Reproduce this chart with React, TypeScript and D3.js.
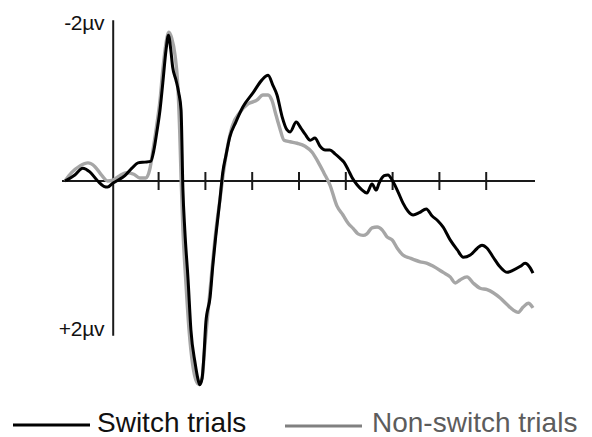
import React from 'react'
import * as d3 from 'd3'

// ERP waveforms: [time in ms, amplitude in µV] (negative plotted up)
const switchTrials: [number, number][] = [
  [-100, 0], [-79, -0.08], [-62, -0.17], [-47, -0.12], [-30, 0], [-17, 0.07], [-9, 0.08], [2, 0.03],
  [13, -0.01], [28, -0.07], [43, -0.17], [56, -0.24], [71, -0.25], [83, -0.26], [90, -0.41], [96, -0.64],
  [103, -0.94], [109, -1.3], [116, -1.74], [121, -1.93], [126, -1.74], [130, -1.51], [137, -1.34], [143, -1.17],
  [148, -0.94], [152, 0.12], [156, 0.65], [163, 1.31], [169, 1.97], [178, 2.41], [184, 2.62], [188, 2.7],
  [193, 2.61], [197, 2.3], [201, 1.87], [210, 1.54], [216, 1.11], [222, 0.74], [231, 0.25], [237, -0.11],
  [244, -0.34], [252, -0.58], [265, -0.78], [280, -0.98], [302, -1.17], [321, -1.34], [334, -1.4], [344, -1.27],
  [353, -1.14], [364, -0.85], [374, -0.68], [381, -0.65], [394, -0.78], [404, -0.7], [413, -0.62], [424, -0.54],
  [434, -0.57], [445, -0.46], [456, -0.41], [466, -0.41], [477, -0.36], [488, -0.3], [496, -0.25], [505, -0.15],
  [513, -0.05], [524, 0.05], [535, 0.12], [545, 0.16], [556, 0.04], [565, 0.12], [571, 0.03], [582, -0.07],
  [590, -0.08], [601, 0.01], [612, 0.15], [622, 0.29], [633, 0.4], [644, 0.45], [657, 0.42], [672, 0.37],
  [684, 0.46], [697, 0.53], [708, 0.61], [723, 0.78], [738, 0.91], [751, 1.01], [766, 0.98], [781, 0.89],
  [791, 0.85], [802, 0.89], [815, 1.01], [830, 1.14], [845, 1.21], [858, 1.18], [873, 1.13], [883, 1.09],
  [894, 1.15], [900, 1.22],
]

const nonSwitchTrials: [number, number][] = [
  [-100, 0], [-86, -0.11], [-68, -0.2], [-51, -0.24], [-36, -0.19], [-21, -0.07], [-9, 0], [2, -0.01],
  [17, -0.07], [32, -0.11], [47, -0.09], [60, -0.04], [73, -0.04], [81, -0.15], [88, -0.41], [96, -0.74],
  [103, -1.07], [109, -1.47], [116, -1.83], [122, -1.97], [128, -1.89], [135, -1.67], [141, -1.27], [145, -0.68],
  [148, -0.05], [152, 0.65], [158, 1.31], [165, 1.97], [173, 2.44], [180, 2.64], [186, 2.69], [193, 2.61],
  [199, 2.17], [205, 1.77], [214, 1.18], [222, 0.68], [231, 0.25], [237, -0.04], [246, -0.41], [257, -0.72],
  [274, -0.91], [291, -1.02], [310, -1.07], [323, -1.14], [334, -1.14], [342, -1.07], [351, -0.87], [359, -0.7],
  [368, -0.54], [381, -0.52], [396, -0.5], [413, -0.46], [428, -0.38], [441, -0.25], [453, -0.11], [466, 0.05],
  [481, 0.33], [494, 0.45], [505, 0.56], [516, 0.63], [526, 0.7], [537, 0.72], [545, 0.7], [556, 0.62],
  [567, 0.61], [578, 0.65], [588, 0.74], [599, 0.78], [610, 0.89], [622, 0.98], [637, 1.02], [659, 1.07],
  [674, 1.09], [687, 1.13], [708, 1.21], [723, 1.27], [734, 1.35], [744, 1.31], [759, 1.27], [772, 1.35],
  [787, 1.42], [802, 1.44], [815, 1.48], [830, 1.55], [845, 1.64], [858, 1.71], [868, 1.74], [879, 1.67],
  [890, 1.62], [900, 1.68],
]

const timeTicks = [100, 200, 300, 400, 500, 600, 700, 800]
const ampLabels: [number, string][] = [[-2, '-2µv'], [2, '+2µv']]
const legendItems = [
  { name: 'Switch trials', line: '#000', text: '#111' },
  { name: 'Non-switch trials', line: '#808080', text: '#5c5c5c' },
]

const W = 592
const H = 437
const font = '"Liberation Sans", Arial, Helvetica, sans-serif'

export default function App() {
  const x = d3.scaleLinear().domain([-100, 900]).range([65, 533])
  const y = d3.scaleLinear().domain([-2, 2]).range([30, 332])

  const line = d3.line<[number, number]>()
    .x(d => x(d[0]))
    .y(d => y(d[1]))
    .curve(d3.curveMonotoneX)

  const [x0, x1] = x.range()

  return (
    <svg width={W} height={H} style={{ position: 'absolute', left: 0, top: 0, background: '#fff' }}>
      {/* axes */}
      <line x1={x0 - 3} x2={x1 + 2} y1={y(0)} y2={y(0)} stroke='#1a1a1a' strokeWidth={2} />
      <line x1={x(3)} x2={x(3)} y1={y(-2.13)} y2={y(2.05)} stroke='#1a1a1a' strokeWidth={2} />
      {timeTicks.map(t => (
        <line key={`tk-${t}`} x1={x(t)} x2={x(t)} y1={y(0) - 9} y2={y(0) + 9} stroke='#1a1a1a' strokeWidth={2} />
      ))}
      {ampLabels.map(([v, label]) => (
        <text key={label} x={x(3) - 9} y={y(v) + (v > 0 ? 4 : 0)} textAnchor='end'
          fontFamily={font} fontSize={21} fill='#111' letterSpacing={-0.3}>{label}</text>
      ))}

      {/* waveforms */}
      <path d={line(nonSwitchTrials) || ''} fill='none' stroke='#a6a6a6' strokeWidth={3.4} strokeLinejoin='round' />
      <path d={line(switchTrials) || ''} fill='none' stroke='#000' strokeWidth={3} strokeLinejoin='round' />

      {/* legend */}
      <g fontFamily={font} fontSize={28}>
        <line x1={13} x2={90} y1={425} y2={425} stroke={legendItems[0].line} strokeWidth={3} />
        <text x={97} y={432} fill={legendItems[0].text}>{legendItems[0].name}</text>
        <line x1={285} x2={362} y1={426} y2={426} stroke={legendItems[1].line} strokeWidth={3} />
        <text x={372} y={432} fill={legendItems[1].text}>{legendItems[1].name}</text>
      </g>
    </svg>
  )
}
